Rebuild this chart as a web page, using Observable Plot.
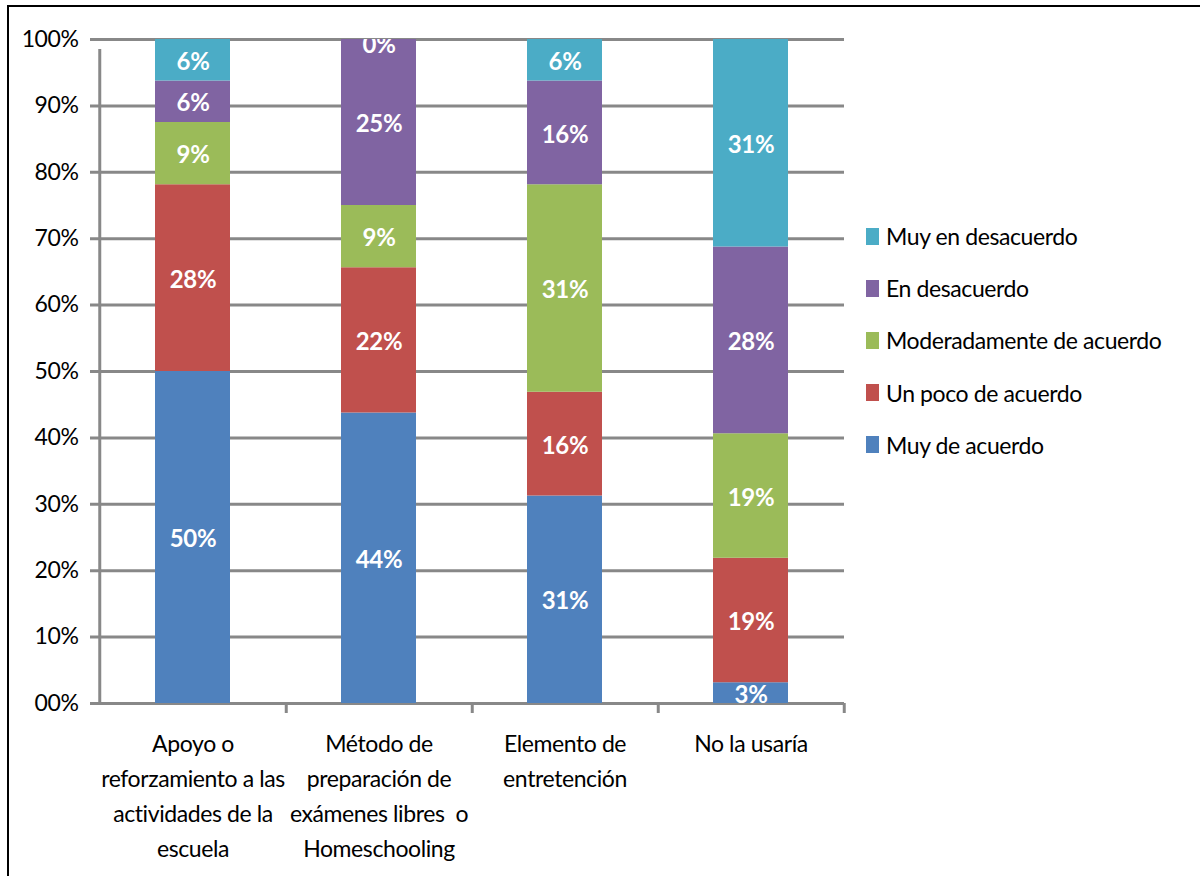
<!DOCTYPE html>
<html>
<head>
<meta charset="utf-8">
<script src="https://cdn.jsdelivr.net/npm/d3@7"></script>
<script src="https://cdn.jsdelivr.net/npm/@observablehq/plot@0.6"></script>
<style>
  html, body { margin: 0; padding: 0; background: #fff; }
  body { width: 1200px; height: 876px; overflow: hidden; position: relative; font-family: Lato, sans-serif; }
  #frame { position: absolute; left: 7px; top: 5px; width: 1400px; height: 1100px; border: 2px solid #000; box-sizing: border-box; }
  #chart { position: absolute; left: 0; top: 0; }
  #chart text { letter-spacing: -0.4px; }
  .legend-item { position: absolute; left: 866px; height: 26px; display: flex; align-items: center; font-size: 23px; line-height: 26px; letter-spacing: -0.4px; color: #000; white-space: nowrap; }
  .legend-swatch { width: 13px; height: 17px; margin-right: 7px; flex: none; }
</style>
</head>
<body>
<div id="frame"></div>
<div id="chart"></div>
<div id="legend"></div>
<script>
// ---- Data ----
const categories = [
  "Apoyo o\nreforzamiento a las\nactividades de la\nescuela",
  "Método de\npreparación de\nexámenes libres  o\nHomeschooling",
  "Elemento de\nentretención",
  "No la usaría"
];
const series = [
  "Muy de acuerdo",
  "Un poco de acuerdo",
  "Moderadamente de acuerdo",
  "En desacuerdo",
  "Muy en desacuerdo"
];
const colors = ["#4F81BD", "#C0504D", "#9BBB59", "#8064A2", "#4BACC6"];

const muyDeAcuerdo     = [0.50,    0.4375,  0.3125,  0.03125];
const unPocoDeAcuerdo  = [0.28125, 0.21875, 0.15625, 0.1875];
const moderadamente    = [0.09375, 0.09375, 0.3125,  0.1875];
const enDesacuerdo     = [0.0625,  0.25,    0.15625, 0.28125];
const muyEnDesacuerdo  = [0.0625,  0.0,     0.0625,  0.3125];

const yTicks = [0, 0.1, 0.2, 0.3, 0.4, 0.5, 0.6, 0.7, 0.8, 0.9, 1.0];
const yTickLabels = ["00%", "10%", "20%", "30%", "40%", "50%", "60%", "70%", "80%", "90%", "100%"];

// ---- Build table ----
const seriesValues = [muyDeAcuerdo, unPocoDeAcuerdo, moderadamente, enDesacuerdo, muyEnDesacuerdo];
const rows = series.flatMap((s, si) =>
  categories.map((c, ci) => ({category: c, series: s, value: seriesValues[si][ci]}))
);

const W = 1200, H = 876;
const mL = 98, mR = 356, mT = 39, mB = 173;
const step = (W - mL - mR) / categories.length;
const gridColor = "#888888";
const pct = d3.format(".0%");

const chart = Plot.plot({
  width: W,
  height: H,
  marginLeft: mL,
  marginRight: mR,
  marginTop: mT,
  marginBottom: mB,
  style: {fontFamily: "Lato, sans-serif", fontSize: "23px", color: "#000", background: "transparent", overflow: "visible"},
  x: {domain: categories, paddingInner: 0.598, paddingOuter: 0.299, label: null},
  y: {domain: [0, 1], label: null},
  color: {domain: series, range: colors},
  marks: [
    // horizontal gridlines + left ticks
    Plot.ruleY(yTicks, {y: d => d, stroke: gridColor, strokeWidth: 3, insetLeft: -8}),
    // vertical axis line
    Plot.ruleX([categories[0]], {x: d => d, dx: -step / 2, y1: 0, y2: 1, insetBottom: -10, stroke: gridColor, strokeWidth: 3}),
    // category boundary ticks below the axis
    Plot.ruleX(categories, {x: d => d, dx: step / 2, y1: 0, y2: 0, insetTop: 0, insetBottom: -10, stroke: gridColor, strokeWidth: 3}),
    // bars
    Plot.barY(rows, Plot.stackY({x: "category", y: "value", z: "series", fill: "series"})),
    // labels
    Plot.text(rows, Plot.stackY({
      x: "category", y: "value", z: "series",
      text: d => d.value > 0 ? pct(d.value) : null,
      fill: "white", fontWeight: "bold", fontSize: 24, dy: 2
    })),
    Plot.text(rows, Plot.stackY({
      x: "category", y: "value", z: "series",
      text: d => d.value === 0 ? pct(d.value) : null,
      fill: "white", fontWeight: "bold", fontSize: 24, dy: 6, clip: true
    })),
    Plot.axisY({ticks: yTicks, tickFormat: (d, i) => yTickLabels[i], tickSize: 0, tickPadding: 20, fontSize: 23}),
    Plot.axisX({
      tickSize: 0, tickPadding: 24, fontSize: 23, lineHeight: 1.52,
      tickFormat: d => d.includes("\n") ? d : d + "\n"
    })
  ]
});
document.getElementById("chart").appendChild(chart);

// ---- Legend (top entry = last series) ----
const legend = document.getElementById("legend");
const legendTop = 236, legendStep = 52.2;
series.slice().reverse().forEach((s, i) => {
  const item = document.createElement("div");
  item.className = "legend-item";
  item.style.top = (legendTop + i * legendStep - 13) + "px";
  const sw = document.createElement("span");
  sw.className = "legend-swatch";
  sw.style.background = colors[series.indexOf(s)];
  const tx = document.createElement("span");
  tx.textContent = s;
  item.appendChild(sw);
  item.appendChild(tx);
  legend.appendChild(item);
});
</script>
</body>
</html>
